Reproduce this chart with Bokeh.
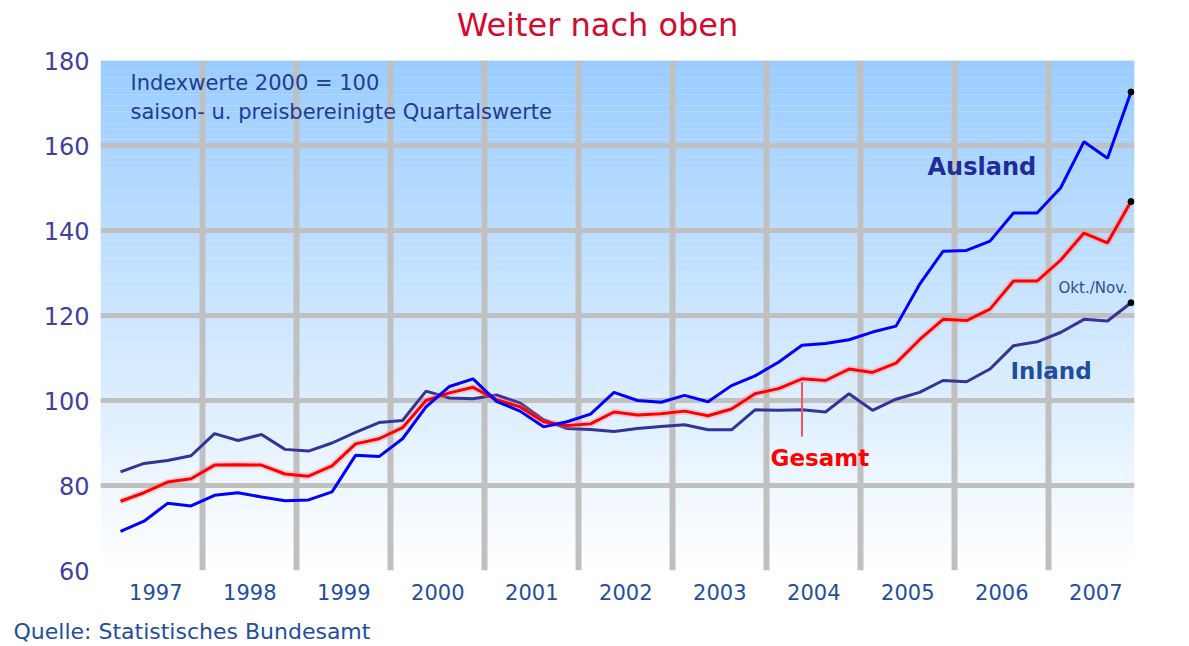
from bokeh.plotting import figure
from bokeh.models import FixedTicker, Label, LinearAxis
from bokeh.embed import file_html
from bokeh.resources import INLINE

# ---------------- data ----------------
years = list(range(1997, 2008))
quarters = [f"{y}Q{q}" for y in years for q in range(1, 5)]

ausland = [69.2, 71.6, 75.8, 75.2, 77.7, 78.3, 77.3, 76.4, 76.6, 78.5,
           87.1, 86.8, 91.0, 98.5, 103.3, 105.1, 99.8, 97.5, 93.8, 95.0,
           96.8, 101.9, 100.0, 99.6, 101.2, 99.7, 103.5, 105.8, 109.0, 113.0,
           113.4, 114.3, 116.1, 117.5, 127.3, 135.1, 135.3, 137.5, 144.1, 144.1,
           150.0, 160.9, 157.0, 172.6]
gesamt = [76.3, 78.3, 80.8, 81.6, 84.8, 84.9, 84.8, 82.7, 82.2, 84.6,
          89.8, 91.0, 93.6, 100.0, 101.8, 103.1, 100.2, 98.5, 95.0, 94.1,
          94.5, 97.3, 96.6, 96.9, 97.5, 96.4, 98.0, 101.6, 102.8, 105.1,
          104.7, 107.4, 106.6, 108.8, 114.3, 119.1, 118.8, 121.5, 128.1, 128.1,
          133.0, 139.4, 137.1, 146.8]
inland = [83.2, 85.2, 85.9, 87.0, 92.2, 90.6, 92.0, 88.5, 88.1, 90.0,
          92.5, 94.8, 95.3, 102.2, 100.6, 100.4, 101.3, 99.4, 95.5, 93.4,
          93.2, 92.7, 93.4, 93.9, 94.3, 93.1, 93.1, 97.8, 97.7, 97.8,
          97.3, 101.6, 97.7, 100.3, 101.9, 104.7, 104.4, 107.4, 112.9, 113.8,
          116.0, 119.1, 118.7, 123.0]

y_ticks = [60, 80, 100, 120, 140, 160, 180]
y_grid = [80, 100, 120, 140, 160]

title_text = "Weiter nach oben"
source_text = "Quelle: Statistisches Bundesamt"

# mid-quarter positions
x = [int(s[:4]) + (int(s[-1]) - 1) * 0.25 + 0.125 for s in quarters]

X0, X1 = 1996.912, 2007.912
Y0, Y1 = 60, 180

p = figure(width=1180, height=646, x_range=(X0, X1), y_range=(Y0, Y1),
           output_backend="svg", toolbar_location=None,
           min_border_left=100, min_border_right=46,
           min_border_top=60, min_border_bottom=75)
p.background_fill_color = "white"
p.border_fill_color = "white"
p.outline_line_color = None

# gradient background (decoration)
n = 90
top = (153, 204, 255)
bot = (255, 255, 255)
bl, br, bb, bt, bc = [], [], [], [], []
for k in range(n):
    y0 = Y0 + (Y1 - Y0) * k / n
    y1 = Y0 + (Y1 - Y0) * (k + 1) / n
    f = ((y0 + y1) / 2 - Y0) / (Y1 - Y0)
    c = tuple(int(round(bot[j] + (top[j] - bot[j]) * f)) for j in range(3))
    bl.append(X0); br.append(X1); bb.append(y0); bt.append(y1 + 0.05)
    bc.append("#%02x%02x%02x" % c)
p.quad(left=bl, right=br, bottom=bb, top=bt, fill_color=bc, line_color=None, level="image")

# grid
p.xgrid.ticker = FixedTicker(ticks=years[1:])
p.xgrid.grid_line_color = "#C0C0C0"
p.xgrid.grid_line_width = 6
p.ygrid.ticker = FixedTicker(ticks=y_grid)
p.ygrid.grid_line_color = "#C0C0C0"
p.ygrid.grid_line_width = 5

# axes
p.xaxis.ticker = FixedTicker(ticks=[y + 0.5 for y in years])
p.xaxis.major_label_overrides = {y + 0.5: str(y) for y in years}
p.yaxis.ticker = FixedTicker(ticks=y_ticks)
for ax in (p.xaxis[0], p.yaxis[0]):
    ax.axis_line_color = None
    ax.major_tick_line_color = None
    ax.minor_tick_line_color = None
    ax.major_label_text_font = "DejaVu Sans"
p.xaxis.major_label_text_font_size = "21px"
p.xaxis.major_label_text_color = "#1F4E9F"
p.xaxis.major_label_standoff = 7
p.yaxis.major_label_text_font_size = "24px"
p.yaxis.major_label_text_color = "#3F3F9F"
p.yaxis.major_label_standoff = 5

# title and source drawn as single-label axes (placed outside the frame)
def text_axis(pos, text, size, color, standoff, side):
    ax = LinearAxis(ticker=FixedTicker(ticks=[pos]),
                    major_label_overrides={pos: text},
                    axis_line_color=None, major_tick_line_color=None,
                    minor_tick_line_color=None,
                    major_label_text_font="DejaVu Sans",
                    major_label_text_font_size=size,
                    major_label_text_color=color,
                    major_label_standoff=standoff)
    p.add_layout(ax, side)

text_axis(2002.199, title_text, "32px", "#D10A2E", 11, "above")
text_axis(1997.885, source_text, "22px", "#1F4E9F", 10, "below")

# series
p.line(x, inland, line_color="#333399", line_width=3)
p.line(x, gesamt, line_color="#FF8080", line_width=7, line_alpha=0.3)
p.line(x, gesamt, line_color="#FF0000", line_width=3)
p.line(x, ausland, line_color="#0000FF", line_width=3)
p.scatter([x[-1]] * 3, [ausland[-1], gesamt[-1], inland[-1]], size=6,
          fill_color="black", line_color="black")

# pointer for "Gesamt"
p.segment(x0=[x[29]], y0=[91.5], x1=[x[29]], y1=[gesamt[29] - 0.8],
          line_color="#FF5060", line_width=2)

def lab(xv, yv, text, size, color, style="normal", align="left", baseline="middle"):
    p.add_layout(Label(x=xv, y=yv, text=text, text_font="DejaVu Sans",
                       text_font_size=size, text_color=color, text_font_style=style,
                       text_align=align, text_baseline=baseline))

lab(1997.231, 174.8, "Indexwerte 2000 = 100", "21px", "#1F3C96")
lab(1997.231, 168.0, "saison- u. preisbereinigte Quartalswerte", "21px", "#1F3C96")
lab(2005.71, 154.9, "Ausland", "24px", "#1E2D9A", style="bold")
lab(2006.593, 107.0, "Inland", "23px", "#1F4E9F", style="bold")
lab(2004.04, 86.5, "Gesamt", "23px", "#FF0000", style="bold")
lab(2007.104, 126.5, "Okt./Nov.", "15px", "#2F4F8F")

open("out.html", "w").write(file_html(p, INLINE))
